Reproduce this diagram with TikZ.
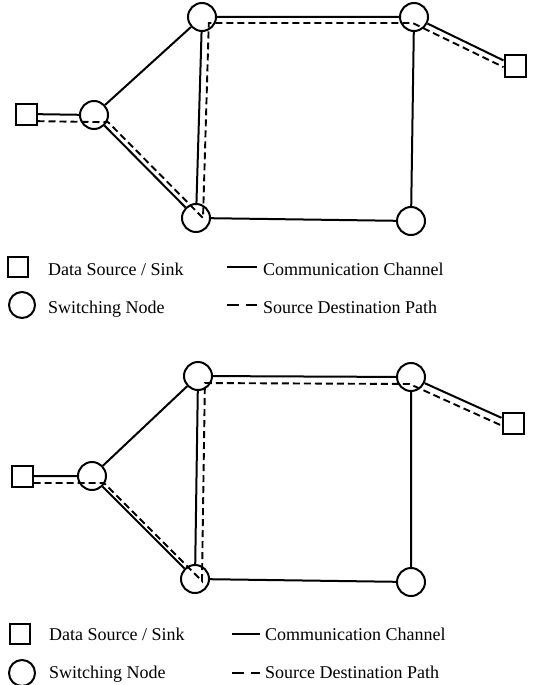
\documentclass[tikz,border=0pt]{standalone}
\usepackage{fontspec}
\setmainfont{Liberation Serif}
\usetikzlibrary{calc}
\begin{document}
\begin{tikzpicture}[x=1pt,y=-1pt,
  sw/.style={circle,draw,line width=2pt,minimum size=28pt,inner sep=0pt},
  src/.style={rectangle,draw,line width=2pt,minimum size=21pt,inner sep=0pt},
  chan/.style={line width=2pt},
  sdpath/.style={line width=1.9pt,dash pattern=on 7pt off 4pt},
  legdash/.style={line width=1.8pt,dash pattern=on 11.5pt off 7pt},
  lab/.style={anchor=base west,inner sep=0pt,font=\fontsize{18}{20}\selectfont}]
\useasboundingbox (0,0) rectangle (534,685);

% ---------- top network ----------
\node[src] (aS1) at (26,114) {};
\node[sw]  (aLN) at (94,115) {};
\node[sw]  (aTL) at (202,17) {};
\node[sw]  (aBL) at (196,218) {};
\node[sw]  (aTR) at (414,17) {};
\node[sw]  (aBR) at (411,221) {};
\node[src] (aS2) at (515,66) {};

\draw[chan] (aS1) -- (aLN) (aLN) -- (aTL) (aLN) -- (aBL) (aTL) -- (aBL)
            (aTL) -- (aTR) (aBL) -- (aBR) (aTR) -- (aBR) (aTR) -- (aS2);

\coordinate (a1p) at ($(aS1.center)!7pt!-90:(aLN.center)$);
\coordinate (a1q) at ($(aLN.center)!7pt!90:(aS1.center)$);
\coordinate (a2p) at ($(aLN.center)!5pt!90:(aBL.center)$);
\coordinate (a2q) at ($(aBL.center)!5pt!-90:(aLN.center)$);
\coordinate (a3p) at ($(aBL.center)!7pt!-90:(aTL.center)$);
\coordinate (a3q) at ($(aTL.center)!7pt!90:(aBL.center)$);
\coordinate (a4p) at ($(aTL.center)!6pt!-90:(aTR.center)$);
\coordinate (a4q) at ($(aTR.center)!6pt!90:(aTL.center)$);
\coordinate (a5p) at ($(aTR.center)!6pt!-90:(aS2.center)$);
\coordinate (a5q) at ($(aS2.center)!6pt!90:(aTR.center)$);
\coordinate (av0) at (intersection of a1p--a1q and aS1.north east--aS1.south east);
\coordinate (av1) at (intersection of a1p--a1q and a2p--a2q);
\coordinate (av2) at (intersection of a2p--a2q and a3p--a3q);
\coordinate (av3) at (intersection of a3p--a3q and a4p--a4q);
\coordinate (av4) at (intersection of a4p--a4q and a5p--a5q);
\coordinate (av5) at (intersection of a5p--a5q and aS2.north west--aS2.south west);
\draw[sdpath] (av0) -- (av1) -- (av2) -- (av3) -- (av4) -- (av5);

% ---------- top legend ----------
\node[src,minimum size=20pt] (lsa) at (18,267) {};
\node[lab] (lsat) at (48,275) {Data Source / Sink};
\coordinate (lca1) at (227,267); \coordinate (lca2) at (257,267);
\draw[chan,line width=1.5pt] (lca1) -- (lca2);
\node[lab] (lcat) at (263,275) {Communication Channel};
\node[sw,minimum size=26pt] (lna) at (22,305) {};
\node[lab] (lnat) at (48,313) {Switching Node};
\coordinate (lda1) at (227,305); \coordinate (lda2) at (257,305);
\draw[legdash] (lda1) -- (lda2);
\node[lab] (ldat) at (263,313) {Source Destination Path};

% ---------- bottom network ----------
\node[src] (bS1) at (22,476) {};
\node[sw]  (bLN) at (92,476) {};
\node[sw]  (bTL) at (198,376) {};
\node[sw]  (bBL) at (195,579) {};
\node[sw]  (bTR) at (411,377) {};
\node[sw]  (bBR) at (411,582) {};
\node[src] (bS2) at (513,423) {};

\draw[chan] (bS1) -- (bLN) (bLN) -- (bTL) (bLN) -- (bBL) (bTL) -- (bBL)
            (bTL) -- (bTR) (bBL) -- (bBR) (bTR) -- (bBR) (bTR) -- (bS2);

\coordinate (b1p) at ($(bS1.center)!7pt!-90:(bLN.center)$);
\coordinate (b1q) at ($(bLN.center)!7pt!90:(bS1.center)$);
\coordinate (b2p) at ($(bLN.center)!3.5pt!90:(bBL.center)$);
\coordinate (b2q) at ($(bBL.center)!3.5pt!-90:(bLN.center)$);
\coordinate (b3p) at ($(bBL.center)!7pt!-90:(bTL.center)$);
\coordinate (b3q) at ($(bTL.center)!7pt!90:(bBL.center)$);
\coordinate (b4p) at ($(bTL.center)!7pt!-90:(bTR.center)$);
\coordinate (b4q) at ($(bTR.center)!7pt!90:(bTL.center)$);
\coordinate (b5p) at ($(bTR.center)!7pt!-90:(bS2.center)$);
\coordinate (b5q) at ($(bS2.center)!7pt!90:(bTR.center)$);
\coordinate (bv0) at (intersection of b1p--b1q and bS1.north east--bS1.south east);
\coordinate (bv1) at (intersection of b1p--b1q and b2p--b2q);
\coordinate (bv2) at (intersection of b2p--b2q and b3p--b3q);
\coordinate (bv3) at (intersection of b3p--b3q and b4p--b4q);
\coordinate (bv4) at (intersection of b4p--b4q and b5p--b5q);
\coordinate (bv5) at (intersection of b5p--b5q and bS2.north west--bS2.south west);
\draw[sdpath] (bv0) -- (bv1) -- (bv2) -- (bv3) -- (bv4) -- (bv5);

% ---------- bottom legend ----------
\node[src,minimum size=20pt] (lsb) at (20,634) {};
\node[lab] (lsbt) at (49,640) {Data Source / Sink};
\coordinate (lcb1) at (232,634); \coordinate (lcb2) at (260,634);
\draw[chan,line width=1.5pt] (lcb1) -- (lcb2);
\node[lab] (lcbt) at (265,640) {Communication Channel};
\node[sw,minimum size=26pt] (lnb) at (22,673) {};
\node[lab] (lnbt) at (49,678) {Switching Node};
\coordinate (ldb1) at (232,673); \coordinate (ldb2) at (260,673);
\draw[legdash] (ldb1) -- (ldb2);
\node[lab] (ldbt) at (265,678) {Source Destination Path};
\end{tikzpicture}
\end{document}
